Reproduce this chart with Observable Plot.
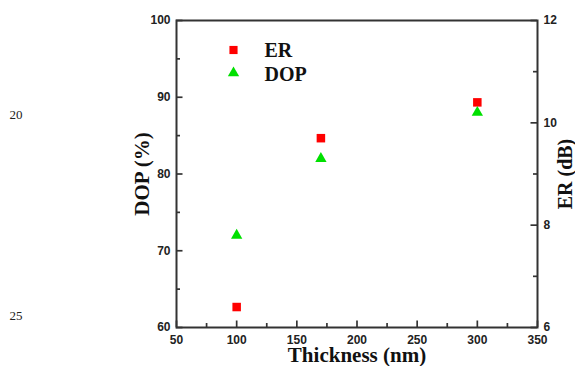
<!DOCTYPE html>
<html><head><meta charset="utf-8">
<script src="https://cdn.jsdelivr.net/npm/d3@7"></script>
<script src="https://cdn.jsdelivr.net/npm/@observablehq/plot@0.6"></script>
<style>body{margin:0;background:#fff;}</style>
</head><body><div id="chart"></div>
<script>
const thickness = [100, 170, 300];
const dop = [72, 82, 88];
const er = [6.4, 9.7, 10.4];
const xTicks = [50, 100, 150, 200, 250, 300, 350];
const xMinor = [75, 125, 175, 225, 275, 325];
const dopTicks = [60, 70, 80, 90, 100];
const dopMinor = [65, 75, 85, 95];
const erTicks = [6, 8, 10, 12];
const erMinor = [7, 9, 11];
const seriesNames = ["ER", "DOP"];
const lineNumbers = ["20", "25"];
const xDomain = [50, 350];
const dopDomain = [60, 100];
const erDomain = [6, 12];

const erToDop = v => dopDomain[0] + (v - erDomain[0]) * (dopDomain[1] - dopDomain[0]) / (erDomain[1] - erDomain[0]);
const dopToEr = v => erDomain[0] + (v - dopDomain[0]) * (erDomain[1] - erDomain[0]) / (dopDomain[1] - dopDomain[0]);

const data = thickness.map((t, i) => ({t, dop: dop[i], er: er[i]}));
const serif = "'Liberation Serif', 'Times New Roman', serif";
const red = "#ff0000", green = "#00e000", ink = "#333";

const W = 575, H = 366, mL = 176, mR = 38, mT = 20, mB = 39;
const fw = W - mL - mR, fh = H - mT - mB;
const major = 6.5, minor = 4, tw = 1.7;
// tick lengths converted from pixels into data units
const xUnit = (xDomain[1] - xDomain[0]) / fw;
const yUnit = (dopDomain[1] - dopDomain[0]) / fh;

const chart = Plot.plot({
  width: W,
  height: H,
  marginLeft: mL,
  marginRight: mR,
  marginTop: mT,
  marginBottom: mB,
  style: {fontFamily: "'Liberation Sans', Arial, sans-serif", fontSize: "12px", fontWeight: "bold", color: "#222", overflow: "visible", background: "#fff"},
  x: {domain: xDomain},
  y: {domain: dopDomain},
  marks: [
    // tick labels
    Plot.axisX(xTicks, {tickSize: 0, tickPadding: 8, label: null}),
    Plot.axisY(dopTicks, {tickSize: 0, tickPadding: 6, label: null}),
    Plot.axisY(erTicks.map(erToDop), {anchor: "right", tickSize: 0, tickPadding: 6, label: null,
      tickFormat: d => String(Math.round(dopToEr(d)))}),
    // inward ticks
    Plot.ruleX(xTicks, {x: d => d, y1: dopDomain[0], y2: dopDomain[0] + major * yUnit, stroke: ink, strokeWidth: tw}),
    Plot.ruleX(xMinor, {x: d => d, y1: dopDomain[0], y2: dopDomain[0] + minor * yUnit, stroke: ink, strokeWidth: tw}),
    Plot.ruleY(dopTicks, {y: d => d, x1: xDomain[0], x2: xDomain[0] + major * xUnit, stroke: ink, strokeWidth: tw}),
    Plot.ruleY(dopMinor, {y: d => d, x1: xDomain[0], x2: xDomain[0] + minor * xUnit, stroke: ink, strokeWidth: tw}),
    Plot.ruleY(erTicks, {y: d => erToDop(d), x1: xDomain[1] - major * xUnit, x2: xDomain[1], stroke: ink, strokeWidth: tw}),
    Plot.ruleY(erMinor, {y: d => erToDop(d), x1: xDomain[1] - minor * xUnit, x2: xDomain[1], stroke: ink, strokeWidth: tw}),
    Plot.frame({stroke: ink, strokeWidth: 2}),
    // data
    Plot.dot(data, {x: "t", y: d => erToDop(d.er), symbol: "square", r: 4.8, fill: red}),
    Plot.dot(data, {x: "t", y: "dop", symbol: "triangle", r: 4.2, fill: green}),
    // legend
    Plot.dot([seriesNames[0]], {frameAnchor: "top-left", dx: 57, dy: 29.5, symbol: "square", r: 4.6, fill: red}),
    Plot.dot([seriesNames[1]], {frameAnchor: "top-left", dx: 57, dy: 52.5, symbol: "triangle", r: 4.2, fill: green}),
    Plot.text([seriesNames[0]], {frameAnchor: "top-left", dx: 88, dy: 30, text: d => d, textAnchor: "start", lineAnchor: "middle",
      fontFamily: serif, fontSize: 20, fontWeight: "bold", fill: "#111"}),
    Plot.text([seriesNames[1]], {frameAnchor: "top-left", dx: 88, dy: 54, text: d => d, textAnchor: "start", lineAnchor: "middle",
      fontFamily: serif, fontSize: 20, fontWeight: "bold", fill: "#111"}),
    // axis titles
    Plot.text(["DOP (%)"], {frameAnchor: "left", dx: -34, rotate: -90, text: d => d, textAnchor: "middle", lineAnchor: "middle",
      fontFamily: serif, fontSize: 21, fontWeight: "bold", fill: "#111"}),
    Plot.text(["ER (dB)"], {frameAnchor: "right", dx: 28, rotate: -90, text: d => d, textAnchor: "middle", lineAnchor: "middle",
      fontFamily: serif, fontSize: 20, fontWeight: "bold", fill: "#111"}),
    Plot.text(["Thickness (nm)"], {frameAnchor: "bottom", dy: 28, text: d => d, textAnchor: "middle", lineAnchor: "middle",
      fontFamily: serif, fontSize: 21, fontWeight: "bold", fill: "#111"}),
    // manuscript line numbers
    Plot.text([lineNumbers[0]], {frameAnchor: "top-left", dx: -167, dy: 94, text: d => d, textAnchor: "start", lineAnchor: "middle",
      fontFamily: serif, fontSize: 13, fontWeight: "normal", fill: "#222"}),
    Plot.text([lineNumbers[1]], {frameAnchor: "top-left", dx: -167, dy: 295, text: d => d, textAnchor: "start", lineAnchor: "middle",
      fontFamily: serif, fontSize: 13, fontWeight: "normal", fill: "#222"})
  ]
});
document.getElementById("chart").append(chart);
</script>
</body></html>
